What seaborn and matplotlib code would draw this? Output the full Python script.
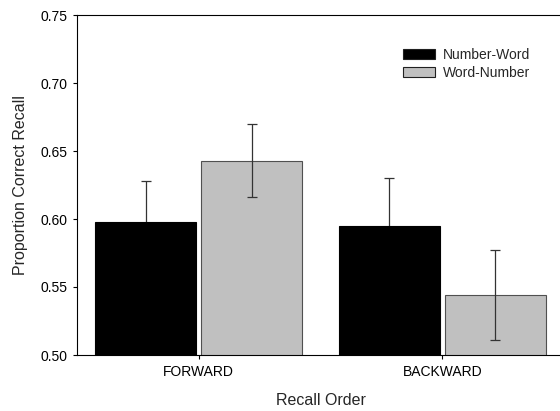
import matplotlib
matplotlib.use("Agg")
import matplotlib.pyplot as plt
import seaborn as sns
import pandas as pd

# values
orders = ["FORWARD", "BACKWARD"]
conditions = ["Number-Word", "Word-Number"]
number_word = [0.598, 0.595]
word_number = [0.643, 0.544]
number_word_err = [0.030, 0.035]
word_number_err = [0.027, 0.033]
y_ticks = [0.50, 0.55, 0.60, 0.65, 0.70, 0.75]

df = pd.DataFrame({
    "Recall Order": orders * 2,
    "Condition": [conditions[0]] * 2 + [conditions[1]] * 2,
    "Proportion": number_word + word_number,
})

sns.set_style("ticks")
plt.rcParams["font.family"] = ["Liberation Sans", "DejaVu Sans"]

fig = plt.figure(figsize=(5.6, 4.11), dpi=100)
ax = fig.add_axes([77 / 560, 56 / 411, 487 / 560, 340 / 411])

sns.barplot(data=df, x="Recall Order", y="Proportion", hue="Condition",
            order=orders, hue_order=conditions,
            palette=["black", "#c0c0c0"], saturation=1,
            width=0.87, gap=0.05, errorbar=None,
            linewidth=0.8, ax=ax)

# edges + error bars per series (black bars hide the lower half)
edge_cols = ["black", "#505050"]
err_z = [0.5, 5]
for container, errs, ec, z in zip(ax.containers, [number_word_err, word_number_err], edge_cols, err_z):
    xs, ys = [], []
    for bar in container:
        bar.set_edgecolor(ec)
        bar.set_zorder(1)
        xs.append(bar.get_x() + bar.get_width() / 2)
        ys.append(bar.get_height())
    ax.errorbar(xs, ys, yerr=errs, fmt="none", ecolor="#333333",
                elinewidth=0.9, capsize=3.6, capthick=0.9, zorder=z)

ax.set_xlim(-0.5, 1.5)
ax.set_ylim(0.5, 0.75)
ax.set_yticks(y_ticks)
ax.set_yticklabels([f"{t:.2f}" for t in y_ticks])

for side in ["top", "right", "left", "bottom"]:
    ax.spines[side].set_visible(True)
    ax.spines[side].set_color("black")
    ax.spines[side].set_linewidth(0.8)

ax.tick_params(direction="out", length=3, width=0.8, labelsize=10, pad=4, colors="black")
ax.set_xlabel("Recall Order", fontsize=11.5, labelpad=10)
ax.set_ylabel("Proportion Correct Recall", fontsize=11.5, labelpad=9)

leg = ax.legend(loc="upper left", bbox_to_anchor=(403 / 560, 1 - 48 / 411),
                bbox_transform=fig.transFigure, frameon=False, fontsize=10,
                borderpad=0, borderaxespad=0, handlelength=2.3, handleheight=0.75,
                handletextpad=0.6, labelspacing=0.3, title=None)
for h in leg.legend_handles:
    h.set_edgecolor("#202020")
    h.set_linewidth(0.8)

fig.savefig("out.png", dpi=100)
